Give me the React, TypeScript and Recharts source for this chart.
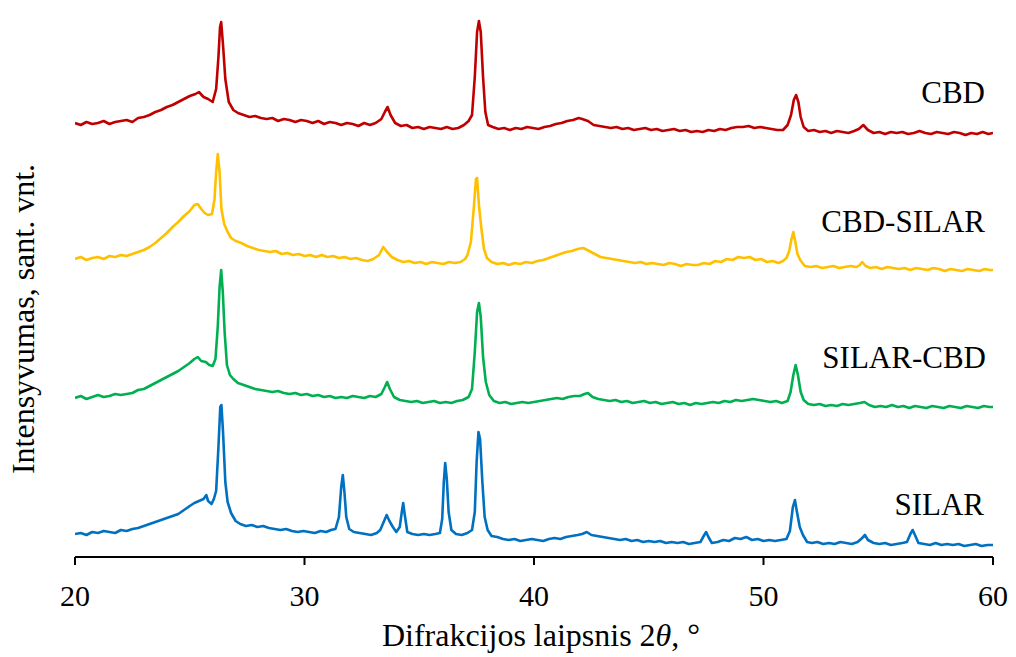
import React from "react";
import { LineChart, Line, XAxis, YAxis } from "recharts";

// 2θ ticks
const twoThetaTicks = [20, 30, 40, 50, 60];

// [2θ, intensity (arb. units)]
const cbd: [number, number][] = [
  [20.0, 434], [20.25, 432], [20.5, 435], [20.75, 433], [21.0, 434], [21.25, 436], [21.5, 433], [21.75, 435],
  [22.0, 436], [22.25, 437], [22.5, 435], [22.75, 439], [23.0, 440], [23.25, 442], [23.5, 445], [23.75, 447],
  [24.0, 450], [24.25, 452], [24.5, 455], [24.75, 458], [25.0, 461], [25.25, 463], [25.4, 465], [25.6, 460],
  [25.8, 458], [26.0, 455], [26.15, 468], [26.25, 500], [26.32, 530], [26.37, 535], [26.45, 512], [26.55, 478],
  [26.7, 455], [26.9, 447], [27.1, 444], [27.35, 442], [27.6, 440], [27.85, 441], [28.1, 439], [28.35, 438],
  [28.6, 439], [28.85, 436], [29.1, 438], [29.35, 437], [29.6, 435], [29.85, 437], [30.1, 436], [30.35, 434],
  [30.6, 436], [30.85, 433], [31.1, 435], [31.35, 434], [31.6, 432], [31.85, 434], [32.1, 433], [32.35, 431],
  [32.6, 434], [32.85, 432], [33.1, 434], [33.35, 438], [33.5, 445], [33.62, 450], [33.75, 442], [33.95, 434],
  [34.2, 431], [34.45, 432], [34.7, 429], [34.95, 430], [35.2, 428], [35.45, 430], [35.7, 429], [35.95, 428],
  [36.2, 430], [36.45, 428], [36.7, 429], [36.95, 432], [37.15, 436], [37.3, 442], [37.42, 480], [37.52, 525],
  [37.6, 536], [37.68, 525], [37.78, 480], [37.88, 445], [38.0, 432], [38.2, 430], [38.45, 428], [38.7, 429],
  [38.95, 427], [39.2, 429], [39.45, 428], [39.7, 430], [39.95, 429], [40.2, 428], [40.45, 430], [40.7, 431],
  [40.95, 433], [41.2, 434], [41.45, 436], [41.7, 437], [41.95, 439], [42.1, 438], [42.35, 436], [42.6, 432],
  [42.85, 431], [43.1, 430], [43.35, 429], [43.6, 430], [43.85, 428], [44.1, 429], [44.35, 427], [44.6, 428],
  [44.85, 429], [45.1, 427], [45.35, 428], [45.6, 426], [45.85, 427], [46.1, 428], [46.35, 426], [46.6, 427],
  [46.85, 425], [47.1, 426], [47.35, 425], [47.6, 427], [47.85, 426], [48.1, 428], [48.35, 427], [48.6, 429],
  [48.85, 430], [49.1, 430], [49.35, 431], [49.6, 429], [49.85, 430], [50.1, 429], [50.35, 428], [50.6, 427],
  [50.85, 427], [51.05, 432], [51.2, 442], [51.32, 457], [51.42, 462], [51.52, 455], [51.62, 440], [51.75, 430],
  [51.95, 426], [52.2, 427], [52.45, 425], [52.7, 426], [52.95, 424], [53.2, 426], [53.45, 425], [53.7, 424],
  [53.95, 426], [54.15, 428], [54.35, 432], [54.55, 427], [54.8, 424], [55.05, 425], [55.3, 423], [55.55, 425],
  [55.8, 424], [56.05, 425], [56.3, 423], [56.55, 424], [56.8, 426], [57.05, 424], [57.3, 423], [57.55, 425],
  [57.8, 424], [58.05, 423], [58.3, 425], [58.55, 424], [58.8, 422], [59.05, 424], [59.3, 423], [59.55, 425],
  [59.8, 423], [60.0, 424],
];

const cbdSilar: [number, number][] = [
  [20.0, 298], [20.25, 300], [20.5, 297], [20.75, 299], [21.0, 300], [21.25, 298], [21.5, 301], [21.75, 300],
  [22.0, 302], [22.25, 301], [22.5, 303], [22.75, 305], [23.0, 307], [23.25, 310], [23.5, 314], [23.75, 319],
  [24.0, 324], [24.25, 330], [24.5, 335], [24.75, 341], [25.0, 346], [25.2, 352], [25.35, 353], [25.5, 348],
  [25.65, 344], [25.8, 342], [25.97, 343], [26.08, 358], [26.15, 385], [26.22, 403], [26.3, 385], [26.38, 348],
  [26.5, 333], [26.65, 325], [26.8, 319], [27.0, 316], [27.25, 314], [27.5, 311], [27.75, 309], [28.0, 307],
  [28.25, 306], [28.5, 305], [28.75, 306], [29.0, 303], [29.25, 304], [29.5, 302], [29.75, 303], [30.0, 301],
  [30.25, 302], [30.5, 300], [30.75, 302], [31.0, 300], [31.25, 301], [31.5, 299], [31.75, 300], [32.0, 298],
  [32.25, 299], [32.5, 297], [32.75, 296], [33.0, 298], [33.25, 302], [33.43, 310], [33.6, 305], [33.8, 300],
  [34.05, 297], [34.3, 295], [34.55, 296], [34.8, 294], [35.05, 295], [35.3, 293], [35.55, 295], [35.8, 294],
  [36.05, 293], [36.3, 295], [36.55, 294], [36.8, 295], [37.0, 298], [37.1, 302], [37.25, 315], [37.38, 350],
  [37.47, 378], [37.52, 379], [37.6, 352], [37.7, 330], [37.82, 308], [37.95, 299], [38.15, 295], [38.4, 293],
  [38.65, 294], [38.9, 292], [39.15, 294], [39.4, 293], [39.65, 295], [39.9, 294], [40.15, 296], [40.4, 297],
  [40.65, 299], [40.9, 301], [41.15, 303], [41.4, 305], [41.65, 306], [41.9, 308], [42.15, 309], [42.4, 306],
  [42.65, 303], [42.9, 300], [43.15, 299], [43.4, 298], [43.65, 297], [43.9, 296], [44.15, 295], [44.4, 294],
  [44.65, 295], [44.9, 293], [45.15, 294], [45.4, 293], [45.65, 292], [45.9, 294], [46.15, 293], [46.4, 291],
  [46.65, 293], [46.9, 292], [47.15, 292], [47.4, 294], [47.65, 293], [47.9, 296], [48.15, 295], [48.4, 298],
  [48.65, 297], [48.9, 300], [49.15, 299], [49.4, 300], [49.65, 297], [49.9, 298], [50.15, 295], [50.4, 296],
  [50.65, 294], [50.85, 296], [51.0, 299], [51.12, 306], [51.22, 318], [51.3, 325], [51.38, 316], [51.48, 303],
  [51.6, 297], [51.8, 291], [52.05, 290], [52.3, 291], [52.55, 289], [52.8, 290], [53.05, 291], [53.3, 289],
  [53.55, 290], [53.8, 291], [54.05, 290], [54.2, 292], [54.3, 295], [54.45, 291], [54.65, 289], [54.9, 290],
  [55.15, 288], [55.4, 290], [55.65, 289], [55.9, 288], [56.15, 289], [56.4, 287], [56.65, 289], [56.9, 288],
  [57.15, 287], [57.4, 289], [57.65, 288], [57.9, 286], [58.15, 288], [58.4, 287], [58.65, 286], [58.9, 288],
  [59.15, 287], [59.4, 286], [59.65, 288], [59.85, 287], [60.0, 287],
];

const silarCbd: [number, number][] = [
  [20.0, 159], [20.25, 161], [20.5, 158], [20.75, 160], [21.0, 162], [21.25, 160], [21.5, 161], [21.75, 163],
  [22.0, 162], [22.25, 163], [22.5, 164], [22.75, 167], [23.0, 168], [23.25, 171], [23.5, 174], [23.75, 177],
  [24.0, 180], [24.25, 183], [24.5, 186], [24.75, 190], [25.0, 194], [25.2, 198], [25.35, 200], [25.5, 196],
  [25.7, 195], [25.85, 192], [26.0, 191], [26.12, 198], [26.22, 230], [26.3, 270], [26.37, 287], [26.44, 265],
  [26.52, 225], [26.62, 192], [26.75, 182], [26.9, 178], [27.1, 174], [27.35, 172], [27.6, 170], [27.85, 168],
  [28.1, 167], [28.35, 166], [28.6, 165], [28.85, 166], [29.1, 164], [29.35, 163], [29.6, 164], [29.85, 162],
  [30.1, 163], [30.35, 161], [30.6, 162], [30.85, 160], [31.1, 161], [31.35, 159], [31.6, 160], [31.85, 159],
  [32.1, 161], [32.35, 160], [32.6, 159], [32.85, 161], [33.1, 160], [33.35, 163], [33.5, 170], [33.6, 175],
  [33.72, 168], [33.9, 160], [34.15, 157], [34.4, 156], [34.65, 155], [34.9, 156], [35.15, 154], [35.4, 155],
  [35.65, 156], [35.9, 154], [36.15, 155], [36.4, 154], [36.65, 156], [36.9, 157], [37.15, 160], [37.3, 168],
  [37.42, 205], [37.52, 245], [37.6, 254], [37.68, 240], [37.78, 200], [37.9, 175], [38.05, 162], [38.25, 156],
  [38.5, 154], [38.75, 155], [39.0, 153], [39.25, 154], [39.5, 155], [39.75, 154], [40.0, 155], [40.25, 156],
  [40.5, 157], [40.75, 158], [41.0, 159], [41.25, 158], [41.5, 160], [41.75, 161], [42.0, 161], [42.2, 163],
  [42.35, 164], [42.55, 160], [42.8, 158], [43.05, 157], [43.3, 156], [43.55, 157], [43.8, 155], [44.05, 156],
  [44.3, 154], [44.55, 155], [44.8, 156], [45.05, 154], [45.3, 155], [45.55, 153], [45.8, 154], [46.05, 155],
  [46.3, 153], [46.55, 154], [46.8, 152], [47.05, 154], [47.3, 153], [47.55, 154], [47.8, 155], [48.05, 154],
  [48.3, 156], [48.55, 155], [48.8, 157], [49.05, 156], [49.3, 157], [49.55, 158], [49.8, 157], [50.05, 156],
  [50.3, 155], [50.55, 156], [50.8, 154], [51.05, 156], [51.18, 165], [51.3, 182], [51.4, 192], [51.5, 182],
  [51.62, 165], [51.75, 157], [51.95, 153], [52.2, 152], [52.45, 153], [52.7, 151], [52.95, 152], [53.2, 151],
  [53.45, 153], [53.7, 152], [53.95, 153], [54.2, 154], [54.4, 155], [54.6, 152], [54.85, 150], [55.1, 151],
  [55.35, 150], [55.6, 152], [55.85, 150], [56.1, 151], [56.35, 149], [56.6, 151], [56.85, 150], [57.1, 149],
  [57.35, 151], [57.6, 150], [57.85, 149], [58.1, 151], [58.35, 150], [58.6, 149], [58.85, 151], [59.1, 150],
  [59.35, 149], [59.6, 151], [59.85, 150], [60.0, 150],
];

const silar: [number, number][] = [
  [20.0, 23], [20.25, 24], [20.5, 22], [20.75, 25], [21.0, 24], [21.25, 26], [21.5, 25], [21.75, 24],
  [22.0, 27], [22.25, 26], [22.5, 28], [22.75, 29], [23.0, 31], [23.25, 33], [23.5, 35], [23.75, 37],
  [24.0, 39], [24.25, 41], [24.5, 43], [24.75, 47], [25.0, 51], [25.2, 54], [25.4, 56], [25.6, 58],
  [25.72, 62], [25.8, 56], [25.95, 53], [26.05, 58], [26.15, 66], [26.25, 110], [26.33, 150], [26.38, 152],
  [26.45, 125], [26.55, 75], [26.65, 55], [26.8, 44], [27.0, 36], [27.2, 33], [27.45, 31], [27.7, 32],
  [27.95, 30], [28.2, 31], [28.45, 29], [28.7, 28], [28.95, 27], [29.2, 28], [29.45, 26], [29.7, 25],
  [29.95, 26], [30.2, 25], [30.45, 24], [30.7, 26], [30.95, 25], [31.15, 27], [31.35, 28], [31.5, 40],
  [31.6, 70], [31.67, 82], [31.74, 65], [31.82, 40], [31.95, 28], [32.15, 25], [32.4, 24], [32.65, 23],
  [32.9, 22], [33.15, 24], [33.3, 27], [33.45, 35], [33.58, 42], [33.7, 36], [33.85, 30], [34.0, 25],
  [34.15, 30], [34.24, 45], [34.3, 54], [34.37, 42], [34.48, 25], [34.7, 23], [34.95, 22], [35.2, 23],
  [35.45, 22], [35.7, 23], [35.9, 24], [36.0, 38], [36.07, 75], [36.13, 94], [36.2, 78], [36.28, 45],
  [36.4, 27], [36.6, 23], [36.85, 22], [37.1, 24], [37.3, 27], [37.42, 45], [37.5, 95], [37.58, 125],
  [37.65, 118], [37.75, 75], [37.85, 40], [37.98, 27], [38.15, 21], [38.4, 20], [38.65, 18], [38.9, 17],
  [39.15, 18], [39.4, 16], [39.65, 17], [39.9, 18], [40.15, 17], [40.4, 16], [40.65, 18], [40.9, 19],
  [41.15, 18], [41.4, 20], [41.65, 21], [41.9, 22], [42.1, 23], [42.3, 25], [42.5, 22], [42.75, 21],
  [43.0, 20], [43.25, 19], [43.5, 18], [43.75, 17], [44.0, 18], [44.25, 16], [44.5, 17], [44.75, 15],
  [45.0, 16], [45.25, 15], [45.5, 16], [45.75, 14], [46.0, 15], [46.25, 14], [46.5, 15], [46.75, 13],
  [47.0, 14], [47.25, 15], [47.42, 22], [47.5, 25], [47.6, 20], [47.75, 14], [48.0, 15], [48.25, 17],
  [48.5, 16], [48.75, 19], [49.0, 18], [49.25, 20], [49.5, 17], [49.75, 18], [50.0, 16], [50.25, 17],
  [50.5, 16], [50.75, 17], [51.0, 18], [51.15, 26], [51.28, 50], [51.37, 57], [51.45, 46], [51.58, 30],
  [51.72, 22], [51.9, 15], [52.1, 14], [52.35, 15], [52.6, 13], [52.85, 14], [53.1, 13], [53.35, 15],
  [53.6, 14], [53.85, 13], [54.1, 15], [54.3, 19], [54.42, 22], [54.55, 17], [54.8, 14], [55.05, 13],
  [55.3, 14], [55.55, 12], [55.8, 13], [56.05, 14], [56.25, 15], [56.4, 23], [56.5, 27], [56.6, 22],
  [56.75, 14], [57.0, 13], [57.25, 12], [57.5, 14], [57.75, 12], [58.0, 13], [58.25, 12], [58.5, 13],
  [58.75, 11], [59.0, 12], [59.25, 13], [59.5, 11], [59.75, 12], [60.0, 12],
];

const seriesNames = ["CBD", "CBD-SILAR", "SILAR-CBD", "SILAR"];
const seriesColors = ["#C00000", "#FFC000", "#00B050", "#0070C0"];
const seriesData = [cbd, cbdSilar, silarCbd, silar];

const toPoints = (pairs: [number, number][]) => pairs.map(([x, y]) => ({ x, y }));

const FONT = "'Liberation Serif', 'Times New Roman', Times, 'DejaVu Serif', serif";
const textStyle: React.CSSProperties = { fontFamily: FONT };

export default function App() {
  return (
    <div style={{ position: "absolute", left: 0, top: 0, width: 1016, height: 657, background: "#fff", fontFamily: FONT }}>
      <LineChart width={1016} height={657} margin={{ top: 9, right: 23, bottom: 40, left: 75 }} style={textStyle}>
        <XAxis
          dataKey="x"
          type="number"
          domain={[20, 60]}
          ticks={twoThetaTicks}
          allowDataOverflow
          height={60}
          tickSize={8}
          tickMargin={20}
          axisLine={{ stroke: "#000", strokeWidth: 2 }}
          tickLine={{ stroke: "#000", strokeWidth: 2 }}
          tick={{ fill: "#000", fontSize: 30, style: textStyle }}
        />
        <XAxis
          xAxisId="top"
          orientation="top"
          dataKey="x"
          type="number"
          domain={[20, 60]}
          height={0}
          tick={false}
          tickLine={false}
          axisLine={{ stroke: "#000", strokeWidth: 2 }}
        />
        <YAxis
          type="number"
          domain={[0, 548]}
          width={0}
          tick={false}
          tickLine={false}
          axisLine={{ stroke: "#000", strokeWidth: 2 }}
        />
        <YAxis
          yAxisId="right"
          orientation="right"
          type="number"
          domain={[0, 548]}
          width={0}
          tick={false}
          tickLine={false}
          axisLine={{ stroke: "#000", strokeWidth: 2 }}
        />
        {seriesData.map((pairs, i) => (
          <Line
            key={seriesNames[i]}
            data={toPoints(pairs)}
            dataKey="y"
            name={seriesNames[i]}
            type="linear"
            stroke={seriesColors[i]}
            strokeWidth={2.6}
            strokeLinejoin="round"
            dot={false}
            activeDot={false}
            isAnimationActive={false}
          />
        ))}
      </LineChart>
      <svg
        width={1016}
        height={657}
        style={{ position: "absolute", left: 0, top: 0, pointerEvents: "none", ...textStyle }}
      >
        <text x={985} y={103} textAnchor="end" fontSize={31} fill="#000" style={textStyle}>CBD</text>
        <text x={985} y={232} textAnchor="end" fontSize={31} fill="#000" style={textStyle}>CBD-SILAR</text>
        <text x={986} y={368} textAnchor="end" fontSize={31} fill="#000" style={textStyle}>SILAR-CBD</text>
        <text x={984} y={515} textAnchor="end" fontSize={31} fill="#000" style={textStyle}>SILAR</text>
        <text x={541} y={646} textAnchor="middle" fontSize={32} fill="#000" style={textStyle}>
          Difrakcijos laipsnis 2<tspan fontStyle="italic">θ</tspan>, °
        </text>
        <text
          x={34}
          y={319}
          textAnchor="middle"
          fontSize={32}
          fill="#000"
          style={textStyle}
          transform="rotate(-90 34 319)"
        >
          Intensyvumas, sant. vnt.
        </text>
      </svg>
    </div>
  );
}
